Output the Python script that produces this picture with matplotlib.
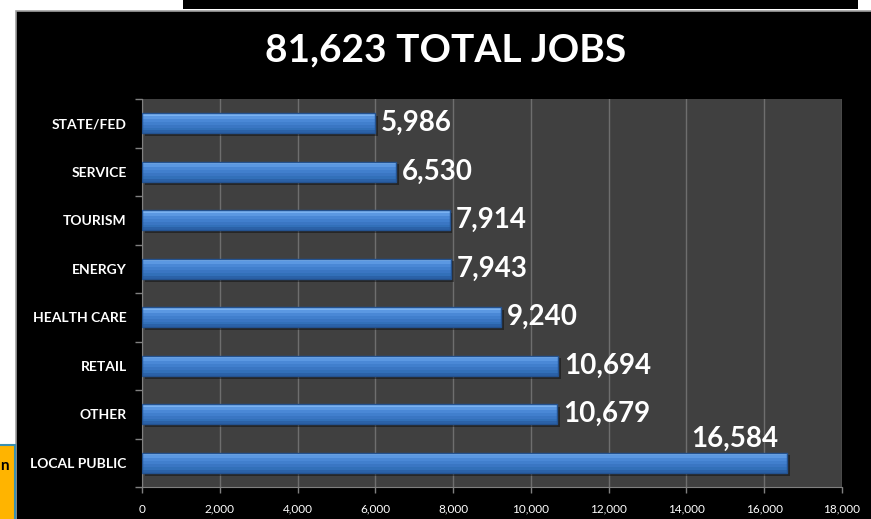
import numpy as np
import matplotlib.pyplot as plt
from matplotlib.patches import Rectangle

# data, top to bottom as in the chart
categories = ["STATE/FED", "SERVICE", "TOURISM", "ENERGY", "HEALTH CARE", "RETAIL", "OTHER", "LOCAL PUBLIC"]
jobs = [5986, 6530, 7914, 7943, 9240, 10694, 10679, 16584]
x_ticks = [0, 2000, 4000, 6000, 8000, 10000, 12000, 14000, 16000, 18000]
title = "81,623 TOTAL JOBS"

plt.rcParams['font.family'] = ['Lato', 'DejaVu Sans']

W, H = 871, 519
fig = plt.figure(figsize=(W / 100, H / 100), dpi=100, facecolor='white')

def px_rect(x0, y0, x1, y1, **kw):
    # rectangle in pixel coords (origin top-left), kept behind the axes
    r = Rectangle((x0 / W, 1 - y1 / H), (x1 - x0) / W, (y1 - y0) / H,
                  transform=fig.transFigure, zorder=-5, **kw)
    fig.patches.append(r)

# slide background bits
px_rect(183, -2, 858, 9, facecolor='black', edgecolor='none')
px_rect(16, 11, 873, 521, facecolor='black', edgecolor='#a0a0a0', linewidth=1.2)
px_rect(-3, 445, 15, 522, facecolor='#ffb400', edgecolor='#3a8fb0', linewidth=1.5)
fig.text(0 / W, 1 - 466 / H, "n", color='black', fontsize=11, fontweight='bold',
         ha='left', va='center')

fig.text(446 / W, 1 - 50 / H, title, color='white', fontsize=28, fontweight='bold',
         ha='center', va='center')

ax = fig.add_axes([142 / W, 1 - 487 / H, 700 / W, 388 / H])
ax.set_facecolor('#404040')

y = np.arange(len(categories))
h = 0.42
# shadow
ax.barh(y + 0.06, jobs, height=h, left=70, color='black', alpha=0.4, zorder=2)
# bar body, drawn as stacked bands light (top) -> dark (bottom) for the 3D look
band_cols = ['#7ab2f2', '#5b98e2', '#4a88d6', '#417fcd', '#3a76c3', '#3270b9', '#2b62a8']
nb = len(band_cols)
bh = h / nb
for k, c in enumerate(band_cols):
    ax.barh(y - h / 2 + bh * (k + 0.5), jobs, height=bh * 1.02, color=c, linewidth=0, zorder=3)
# outline
ax.barh(y, jobs, height=h, color='none', edgecolor='#24528f', linewidth=1.0, zorder=4)

for i, v in enumerate(jobs):
    lab = f"{v:,}"
    if i == len(jobs) - 1:
        ax.annotate(lab, (v, y[i]), xytext=(-9, 24), textcoords='offset pixels',
                    ha='right', va='center', color='white', fontsize=20, fontweight='bold')
    else:
        ax.annotate(lab, (v, y[i]), xytext=(6, 0), textcoords='offset pixels',
                    ha='left', va='center', color='white', fontsize=20, fontweight='bold')

ax.set_xlim(0, 18000)
ax.set_ylim(len(categories) - 0.5, -0.5)
ax.set_xticks(x_ticks)
ax.set_xticklabels([f"{t:,}" for t in x_ticks], color='white', fontsize=8.5)
ax.set_yticks(y)
ax.set_yticklabels(categories, color='white', fontsize=10, fontweight='bold')
ax.tick_params(axis='y', length=0, pad=11)
ax.set_yticks(np.arange(len(categories) + 1) - 0.5, minor=True)
ax.tick_params(axis='y', which='minor', length=5, color='#808080', width=1)
ax.tick_params(axis='x', length=4, color='#808080', width=1, pad=8)
ax.grid(axis='x', color='#6e6e6e', linewidth=1, zorder=1)
ax.set_axisbelow(True)
for s in ['top', 'right']:
    ax.spines[s].set_visible(False)
for s in ['left', 'bottom']:
    ax.spines[s].set_color('#808080')

fig.savefig('out.png', dpi=100, facecolor=fig.get_facecolor())
